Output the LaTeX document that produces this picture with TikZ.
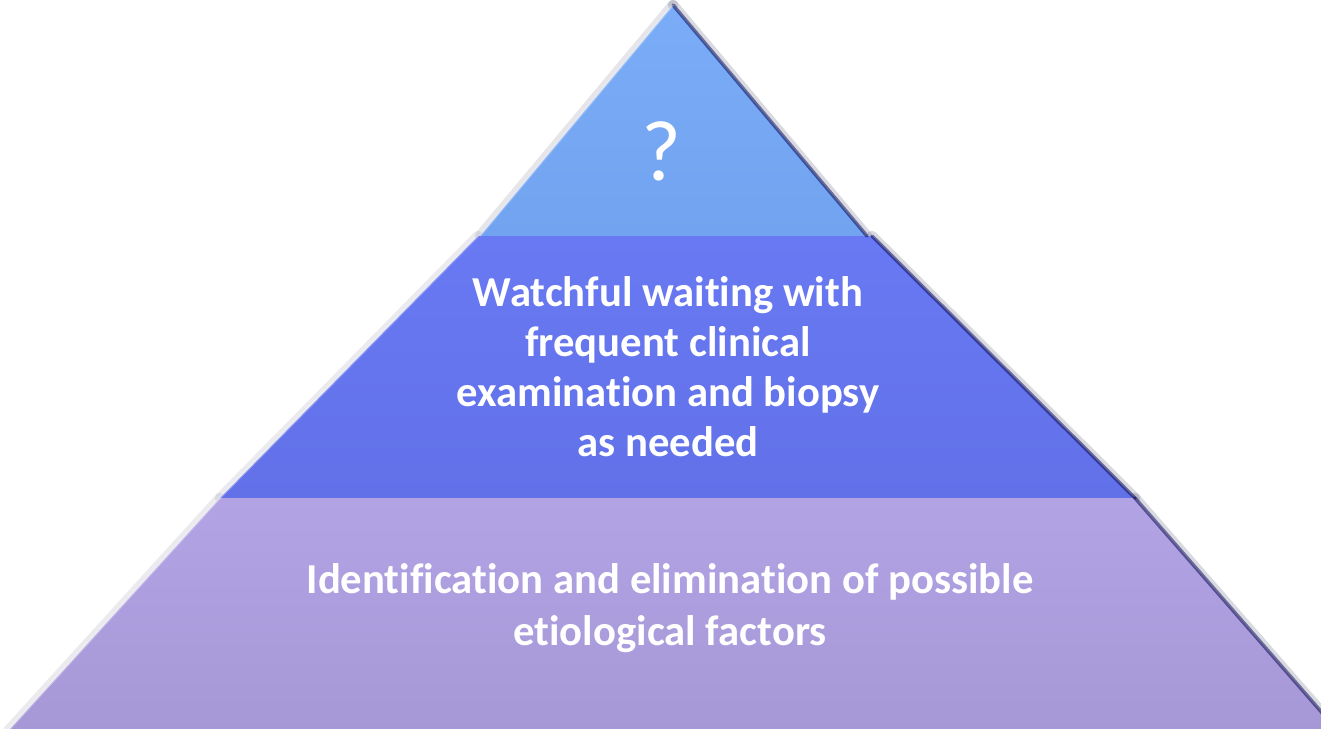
\documentclass[tikz,border=0pt]{standalone}
\usepackage{fontspec}
\setmainfont{Carlito}[Ligatures=NoCommon]
\usepackage{tikz}
\usetikzlibrary{positioning}
\definecolor{tiptop}{RGB}{122,172,247}
\definecolor{tipblue}{RGB}{114,163,240}
\definecolor{midtop}{RGB}{104,121,243}
\definecolor{midblue}{RGB}{98,113,232}
\definecolor{lilactop}{RGB}{178,163,229}
\definecolor{lilac}{RGB}{166,152,214}
\tikzset{lbl/.style={text=white,inner sep=0pt,align=center,font=\bfseries\fontsize{24.3}{28.5}\selectfont},
  rim/.style={line width=6pt,black!80!blue,opacity=0.15,line cap=round},
  rimcore/.style={line width=2pt,black!70!blue,opacity=0.5,line cap=round},
  glint/.style={line width=1.2pt,white,opacity=0.3}}

\begin{document}
\begin{tikzpicture}[x=0.02cm,y=-0.02cm]
        \useasboundingbox (0,0) rectangle (1321,728);
        \coordinate (apex) at (673,5);
        \coordinate (t1) at (480,236);
        \coordinate (t2) at (867,236);
        \coordinate (m1) at (478,236);
        \coordinate (m2) at (872,236);
        \coordinate (m3) at (1135,498);
        \coordinate (m4) at (220,498);
        \coordinate (b1) at (220,498);
        \coordinate (b2) at (1135,498);
        \coordinate (b3) at (1338,731);
        \coordinate (b4) at (8,731);

        \draw [rim] (apex) -- (t2);
        \draw [rim] (m2) -- (m3);
        \draw [rim] (b2) -- (b3);
        \draw [rim,opacity=0.1] (t1) -- (apex);
        \draw [rim,opacity=0.08] (m4) -- (m1);
        \draw [rim,opacity=0.08] (b4) -- (b1);

        \shade [top color=tiptop,bottom color=tipblue] (apex) -- (t2) -- (t1) -- cycle;
        \shade [top color=midtop,bottom color=midblue] (m1) -- (m2) -- (m3) -- (m4) -- cycle;
        \shade [top color=lilactop,bottom color=lilac] (b1) -- (b2) -- (b3) -- (b4) -- cycle;

        \draw [rimcore] (apex) -- (t2);
        \draw [rimcore] (m2) -- (m3);
        \draw [rimcore] (b2) -- (b3);
        \draw [glint,xshift=2pt] (t1) -- (apex);
        \draw [glint,xshift=2pt] (m4) -- (m1);
        \draw [glint,xshift=2pt] (b4) -- (b1);

        \node[lbl,font=\fontsize{49}{50}\selectfont] (quest) at (661,151.5) {?};
        \node[lbl] (watch) at (668,367) {Watchful waiting with\\frequent clinical\\examination and biopsy\\as needed};
        \node[lbl,font=\bfseries\fontsize{24.3}{29.6}\selectfont] (ident) at (670,608) {Identification and elimination of possible\\etiological factors};
    \end{tikzpicture}
\end{document}
